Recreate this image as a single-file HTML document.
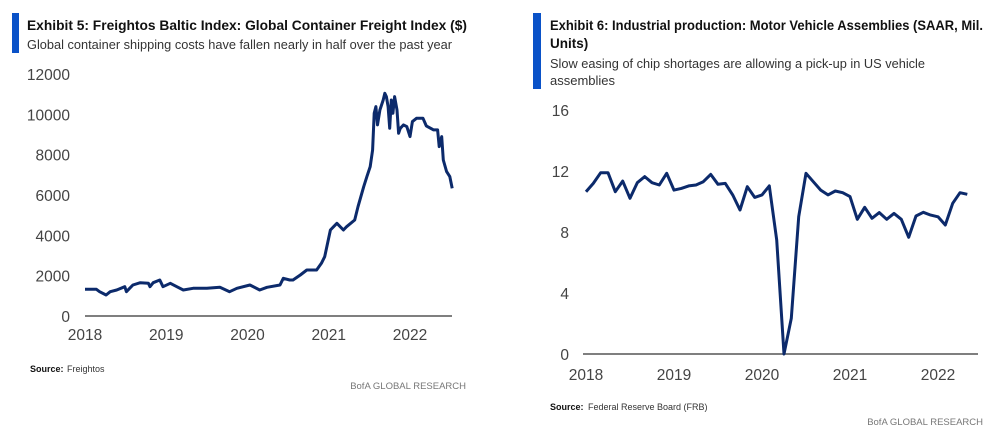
<!DOCTYPE html>
<html><head><meta charset="utf-8"><style>
body{margin:0;background:#fff;width:997px;height:433px;overflow:hidden;font-family:"Liberation Sans",sans-serif}
svg text{font-family:"Liberation Sans",sans-serif}
</style></head><body>
<svg id="s" width="997" height="433" viewBox="0 0 997 433">
<g>
<rect x="12" y="13" width="7" height="40" fill="#0a52c8"/>
<text x="27" y="30" font-size="13.5" font-weight="bold" fill="#111" textLength="440" lengthAdjust="spacingAndGlyphs">Exhibit 5: Freightos Baltic Index: Global Container Freight Index ($)</text>
<text x="27" y="49" font-size="13" fill="#333" textLength="425" lengthAdjust="spacingAndGlyphs">Global container shipping costs have fallen nearly in half over the past year</text>
<g id="ax1"></g>
<text x="30" y="372" font-size="9" font-weight="bold" fill="#111">Source:</text>
<text x="67" y="372" font-size="9" fill="#333">Freightos</text>
<text x="466" y="389" font-size="9.5" fill="#777" text-anchor="end">BofA GLOBAL RESEARCH</text>
</g>
<g>
<rect x="533" y="13" width="8" height="76" fill="#0a52c8"/>
<text x="550" y="30" font-size="13.5" font-weight="bold" fill="#111" textLength="433" lengthAdjust="spacingAndGlyphs">Exhibit 6: Industrial production: Motor Vehicle Assemblies (SAAR, Mil.</text>
<text x="550" y="48" font-size="13.5" font-weight="bold" fill="#111">Units)</text>
<text x="550" y="68" font-size="13" fill="#333" textLength="375" lengthAdjust="spacingAndGlyphs">Slow easing of chip shortages are allowing a pick-up in US vehicle</text>
<text x="550" y="85" font-size="13" fill="#333">assemblies</text>
<g id="ax2"></g>
<text x="550" y="410" font-size="9" font-weight="bold" fill="#111">Source:</text>
<text x="588" y="410" font-size="9" fill="#333">Federal Reserve Board (FRB)</text>
<text x="983" y="425" font-size="9.5" fill="#777" text-anchor="end">BofA GLOBAL RESEARCH</text>
</g>
</svg>
<script>
const fbxDates=[2018.00,2018.14,2018.18,2018.26,2018.31,2018.39,2018.49,2018.51,2018.59,2018.68,2018.78,2018.80,2018.84,2018.92,2018.96,2019.05,2019.13,2019.21,2019.33,2019.50,2019.66,2019.78,2019.87,2020.03,2020.15,2020.24,2020.40,2020.44,2020.52,2020.56,2020.65,2020.73,2020.85,2020.91,2020.95,2021.02,2021.06,2021.10,2021.18,2021.22,2021.32,2021.36,2021.43,2021.47,2021.51,2021.54,2021.56,2021.58,2021.60,2021.63,2021.67,2021.69,2021.71,2021.73,2021.75,2021.77,2021.79,2021.81,2021.84,2021.86,2021.88,2021.92,2021.96,2022.00,2022.03,2022.08,2022.16,2022.20,2022.29,2022.34,2022.36,2022.39,2022.41,2022.45,2022.49,2022.52];
const fbxValues=[1322,1322,1207,1041,1207,1290,1455,1207,1537,1653,1620,1455,1653,1785,1455,1620,1455,1290,1372,1372,1422,1207,1372,1537,1290,1422,1537,1868,1785,1785,2033,2281,2281,2612,2942,4265,4430,4595,4265,4430,4761,5422,6414,6910,7406,8233,10052,10383,9474,10217,10713,11044,10879,10383,9309,10713,10052,10879,10217,9061,9309,9474,9391,8895,9639,9805,9805,9424,9226,9226,8399,8895,7737,7159,6910,6332];
const fbxYTicks=[0,2000,4000,6000,8000,10000,12000];
const xYearTicks=[2018,2019,2020,2021,2022];
const mvaStart=2018;
const mvaValues=[10.64,11.19,11.89,11.89,10.64,11.34,10.21,11.23,11.63,11.23,11.08,11.85,10.75,10.86,11.02,11.08,11.30,11.78,11.13,11.19,10.43,9.44,10.97,10.27,10.43,11.02,7.48,0,2.34,9.0,11.85,11.30,10.75,10.43,10.69,10.58,10.32,8.83,9.62,8.9,9.27,8.83,9.22,8.83,7.65,9.05,9.29,9.11,9.0,8.46,9.88,10.58,10.47];
const mvaYTicks=[0,4,8,12,16];
const NS='http://www.w3.org/2000/svg';
function mk(p,t,a){const e=document.createElementNS(NS,t);for(const k in a)e.setAttribute(k,a[k]);p.appendChild(e);return e;}
const NAVY='#0c2a6b';
(function(){
 const g=document.getElementById('ax1');
 const x=v=>85+(v-2018)*81.25, y=v=>316-v*(242/12000);
 fbxYTicks.forEach(t=>{const e=mk(g,'text',{x:70,y:y(t)+6,'font-size':15.5,fill:'#444','text-anchor':'end'});e.textContent=t;
 
 });
 xYearTicks.forEach(t=>{const e=mk(g,'text',{x:x(t),y:340,'font-size':15.5,fill:'#444','text-anchor':'middle'});e.textContent=t;
 
 });
 const ax=mk(g,'line',{x1:85,x2:452,y1:316,y2:316,stroke:'#333','stroke-width':1.3});
 
 
 const d=fbxDates.map((v,i)=>(i?'L':'M')+x(v).toFixed(1)+','+y(fbxValues[i]).toFixed(1)).join('');
 const p=mk(g,'path',{d:d,fill:'none',stroke:NAVY,'stroke-width':3,'stroke-linejoin':'round'});
 
 
})();
(function(){
 const g=document.getElementById('ax2');
 const x=v=>586+(v-2018)*88, y=v=>354-v*(244/16);
 mvaYTicks.forEach(t=>{const e=mk(g,'text',{x:569,y:y(t)+6,'font-size':15.5,fill:'#444','text-anchor':'end'});e.textContent=t;
 
 });
 xYearTicks.forEach(t=>{const e=mk(g,'text',{x:x(t),y:380,'font-size':15.5,fill:'#444','text-anchor':'middle'});e.textContent=t;
 
 });
 const ax=mk(g,'line',{x1:583,x2:978,y1:354,y2:354,stroke:'#333','stroke-width':1.3});
 
 
 const d=mvaValues.map((v,i)=>(i?'L':'M')+x(mvaStart+i/12).toFixed(1)+','+y(v).toFixed(1)).join('');
 const p=mk(g,'path',{d:d,fill:'none',stroke:NAVY,'stroke-width':3,'stroke-linejoin':'round'});
 
 
})();
</script>
</body></html>
